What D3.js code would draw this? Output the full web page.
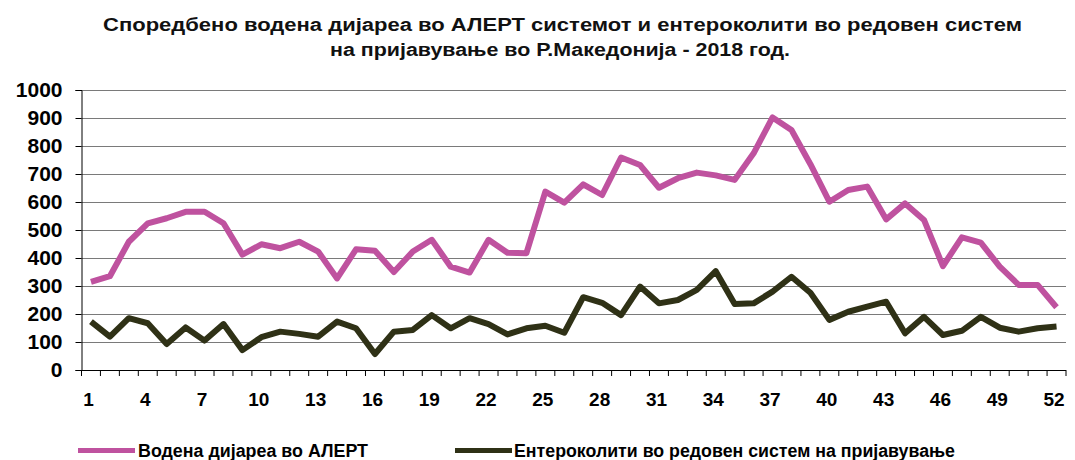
<!DOCTYPE html>
<html>
<head>
<meta charset="utf-8">
<script src="https://cdn.jsdelivr.net/npm/d3@7"></script>
<style>
  html, body { margin: 0; padding: 0; background: #fff; }
  svg { display: block; }
</style>
</head>
<body>
<svg id="chart" width="1075" height="460"></svg>
<script>
// Weekly counts, 2018
const weeks = d3.range(1, 53);
const wateryDiarrhoea = [315, 335, 458, 524, 542, 565, 565, 524, 412, 449, 435, 458, 423, 327, 431, 426,
  350, 423, 465, 369, 348, 465, 419, 417, 637, 598, 663, 625, 759, 732, 651, 685, 705, 695,
  679, 774, 902, 857, 735, 601, 643, 655, 538, 595, 536, 371, 474, 455, 369, 304, 304, 224];
const enterocolitis = [173, 119, 185, 167, 93, 152, 105, 164, 71, 117, 137, 129, 119, 173, 149, 57,
  137, 143, 196, 149, 185, 164, 127, 149, 158, 133, 260, 240, 196, 298, 238, 250, 286, 353,
  236, 238, 280, 333, 276, 179, 208, 226, 244, 131, 190, 125, 140, 190, 151, 137, 149, 155];
const yTicks = [0, 100, 200, 300, 400, 500, 600, 700, 800, 900, 1000];
const xLabelWeeks = [1, 4, 7, 10, 13, 16, 19, 22, 25, 28, 31, 34, 37, 40, 43, 46, 49, 52];
const seriesNames = ["Водена дијареа во АЛЕРТ", "Ентероколити во редовен систем на пријавување"];
const seriesColors = ["#BF529F", "#2F3116"];
const titleLines = [
  "Споредбено водена дијареа во АЛЕРТ системот и ентероколити  во редовен систем",
  "на пријавување во Р.Македонија - 2018  год."
];

const svg = d3.select("#chart");
const plot = { left: 81.5, right: 1066, top: 90, bottom: 370 };

const x = d3.scaleBand().domain(weeks).range([plot.left, plot.right]).padding(0);
const y = d3.scaleLinear().domain([0, 1000]).range([plot.bottom, plot.top]);
const cx = d => x(d) + x.bandwidth() / 2;

const sans = "'Liberation Sans', Arial, sans-serif";

// Title
svg.append("text")
  .attr("x", 103).attr("y", 31)
  .attr("textLength", 919).attr("lengthAdjust", "spacingAndGlyphs")
  .style("font-family", sans).style("font-size", "18px").style("font-weight", "bold")
  .attr("fill", "#111")
  .text(titleLines[0]);
svg.append("text")
  .attr("x", 330).attr("y", 56)
  .attr("textLength", 460).attr("lengthAdjust", "spacingAndGlyphs")
  .style("font-family", sans).style("font-size", "18px").style("font-weight", "bold")
  .attr("fill", "#111")
  .text(titleLines[1]);

// Horizontal gridlines
svg.append("g")
  .selectAll("line")
  .data(yTicks.filter(v => v > 0))
  .join("line")
  .attr("x1", plot.left).attr("x2", plot.right)
  .attr("y1", d => Math.round(y(d)) + 0.5).attr("y2", d => Math.round(y(d)) + 0.5)
  .attr("stroke", "#7a7a7a").attr("stroke-width", 1);

// Y axis
const yAxis = svg.append("g")
  .attr("transform", `translate(${plot.left},0)`)
  .call(d3.axisLeft(y).tickValues(yTicks).tickFormat(d3.format("d")).tickSize(6).tickPadding(13));
yAxis.select(".domain").attr("stroke", "#000");
yAxis.selectAll(".tick line").attr("stroke", "#000");
yAxis.selectAll(".tick text")
  .style("font-family", sans)
  .style("font-size", "21px").style("font-weight", "bold")
  .attr("fill", "#000");

// X axis: ticks on week boundaries, labels every third week
const xAxisG = svg.append("g").attr("transform", `translate(0,${plot.bottom})`);
xAxisG.append("line")
  .attr("x1", plot.left).attr("x2", plot.right)
  .attr("y1", 0.5).attr("y2", 0.5)
  .attr("stroke", "#000");
xAxisG.selectAll("line.tick")
  .data(weeks.concat([53]))
  .join("line")
  .attr("class", "tick")
  .attr("x1", d => d === 53 ? plot.right : x(d))
  .attr("x2", d => d === 53 ? plot.right : x(d))
  .attr("y1", 0).attr("y2", 6)
  .attr("stroke", "#000");
xAxisG.selectAll("text")
  .data(xLabelWeeks)
  .join("text")
  .attr("x", d => cx(d) - 2.5)
  .attr("y", 36)
  .attr("text-anchor", "middle")
  .style("font-family", sans).style("font-size", "19px").style("font-weight", "bold")
  .attr("fill", "#000")
  .text(d => d);

// Lines
const line = d3.line().x((d, i) => cx(weeks[i])).y(d => y(d));
[wateryDiarrhoea, enterocolitis].forEach((vals, i) => {
  svg.append("path")
    .datum(vals)
    .attr("d", line)
    .attr("fill", "none")
    .attr("stroke", seriesColors[i])
    .attr("stroke-width", 6)
    .attr("stroke-linejoin", "round")
    .attr("stroke-linecap", "butt");
});

// Legend
const legendItems = [
  { x: 78, textX: 138, len: 230 },
  { x: 455, textX: 514, len: 441 }
];
legendItems.forEach((it, i) => {
  svg.append("line")
    .attr("x1", it.x).attr("x2", it.x + 57)
    .attr("y1", 450.5).attr("y2", 450.5)
    .attr("stroke", seriesColors[i]).attr("stroke-width", 5);
  svg.append("text")
    .attr("x", it.textX).attr("y", 457)
    .attr("textLength", it.len).attr("lengthAdjust", "spacingAndGlyphs")
    .style("font-family", sans).style("font-size", "18px").style("font-weight", "bold")
    .attr("fill", "#000")
    .text(seriesNames[i]);
});
</script>
</body>
</html>
